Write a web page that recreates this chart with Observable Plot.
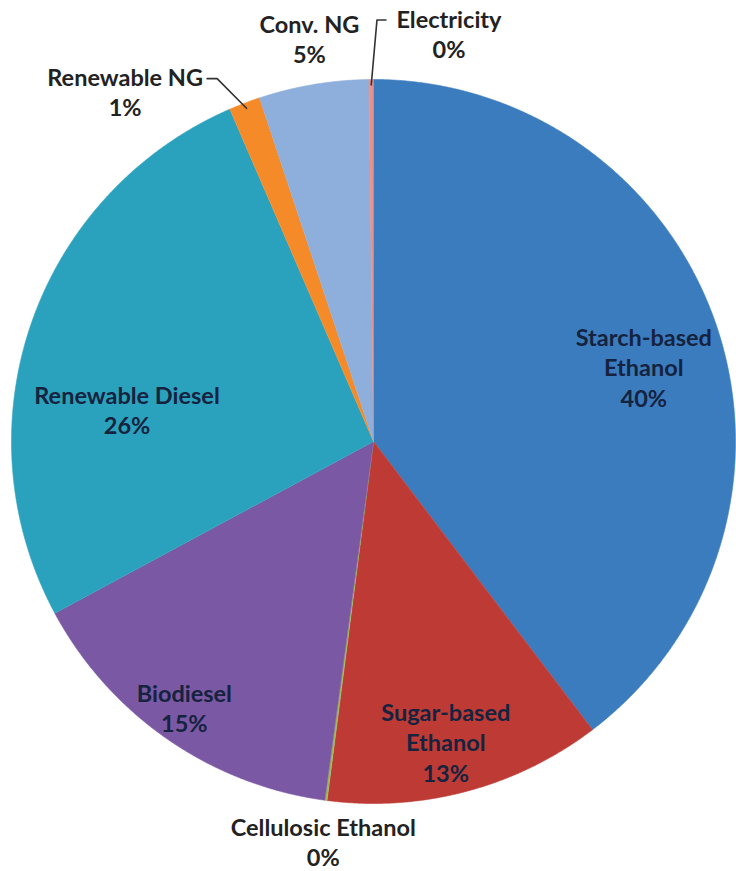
<!DOCTYPE html>
<html><head><meta charset="utf-8">
<script src="https://cdn.jsdelivr.net/npm/d3@7"></script>
<script src="https://cdn.jsdelivr.net/npm/@observablehq/plot@0.6"></script>
<style>body{margin:0;background:#fff}#chart svg{display:block}</style>
</head><body><div id="chart"></div>
<script>
// ---- data (clockwise from 12 o'clock) ----
const categories = ["Starch-based Ethanol", "Sugar-based Ethanol", "Cellulosic Ethanol", "Biodiesel", "Renewable Diesel", "Renewable NG", "Conv. NG", "Electricity"];
const shares = [39.7, 12.4, 0.1, 15.0, 26.4, 1.4, 4.9, 0.2];
const percentLabels = ["40%", "13%", "0%", "15%", "26%", "1%", "5%", "0%"];
const labelText = ["Starch-based\nEthanol", "Sugar-based\nEthanol", "Cellulosic Ethanol", "Biodiesel", "Renewable Diesel", "Renewable NG", "Conv. NG", "Electricity"];
const colors = ["#3b7cbf", "#bd3a35", "#9bbb59", "#7b58a3", "#2ba2bd", "#f58b28", "#8eaedb", "#e89089"];

// ---- layout (label placement: radius fraction, pixel nudges, whether outside) ----
const W = 736, H = 871, CX = 373, CY = 441, R = 362;
const labelLayout = {
  "Starch-based Ethanol": {rf: 0.75, dx: 13, dy: 12, inside: true},
  "Sugar-based Ethanol": {rf: 0.85, dx: -7, dy: 3, inside: true},
  "Cellulosic Ethanol": {rf: 1.12, dx: 3, dy: -2, inside: false},
  "Biodiesel": {rf: 0.85, dx: -14, dy: 13, inside: true},
  "Renewable Diesel": {rf: 0.75, dx: 10, dy: 57, inside: true},
  "Renewable NG": {rf: 1.12, dx: -104, dy: 29, inside: false, leader: [[82, -13], [92, -13]]},
  "Conv. NG": {rf: 1.12, dx: 3, dy: -3, inside: false},
  "Electricity": {rf: 1.12, dx: 78, dy: -3, inside: false, leader: [[-63, -13], [-72, -13]]}
};

const total = d3.sum(shares);
let acc = 0;
const slices = categories.map((name, i) => {
  const a0 = acc / total * 2 * Math.PI; acc += shares[i];
  const a1 = acc / total * 2 * Math.PI;
  return {name, i, a0, a1, mid: (a0 + a1) / 2};
});
const polar = (a, r) => ({x: r * Math.sin(a), y: r * Math.cos(a)});

const slicePts = slices.flatMap(s => {
  const n = Math.max(2, Math.ceil((s.a1 - s.a0) / (Math.PI / 720)));
  const pts = [{name: s.name, x: 0, y: 0}];
  for (let k = 0; k <= n; k++) pts.push({name: s.name, ...polar(s.a0 + (s.a1 - s.a0) * k / n, 1)});
  return pts;
});

const labels = slices.map(s => {
  const L = labelLayout[s.name];
  const p = polar(s.mid, L.rf);
  return {name: s.name, inside: L.inside,
    x: p.x + L.dx / R, y: p.y - L.dy / R,
    text: labelText[s.i] + "\n" + percentLabels[s.i]};
});

const leaders = slices.filter(s => labelLayout[s.name].leader).flatMap(s => {
  const lab = labels[s.i];
  const L = labelLayout[s.name];
  const pts = L.leader.map(([ox, oy]) => ({name: s.name, x: lab.x + ox / R, y: lab.y - oy / R}));
  const edge = polar(s.mid, 0.985);
  return [...pts, {name: s.name, ...edge}];
});

const textStyle = {fontFamily: "Lato, 'Open Sans', sans-serif", fontWeight: "bold", fontSize: 23.5, lineHeight: 1.28, lineAnchor: "middle", textAnchor: "middle"};

const chart = Plot.plot({
  width: W, height: H, margin: 0,
  x: {domain: [-CX / R, (W - CX) / R], range: [0, W], axis: null},
  y: {domain: [-(H - CY) / R, CY / R], range: [H, 0], axis: null},
  color: {domain: categories, range: colors},
  marks: [
    Plot.line(slicePts, {x: "x", y: "y", z: "name", fill: "name", stroke: "name", strokeWidth: 0.6, curve: "linear"}),
    Plot.line(leaders, {x: "x", y: "y", z: "name", stroke: "#333", strokeWidth: 1.6}),
    Plot.text(labels.filter(d => d.inside), {x: "x", y: "y", text: "text", fill: "#15233f", ...textStyle}),
    Plot.text(labels.filter(d => !d.inside), {x: "x", y: "y", text: "text", fill: "#222", ...textStyle})
  ]
});
document.getElementById("chart").append(chart);
</script>
</body></html>
